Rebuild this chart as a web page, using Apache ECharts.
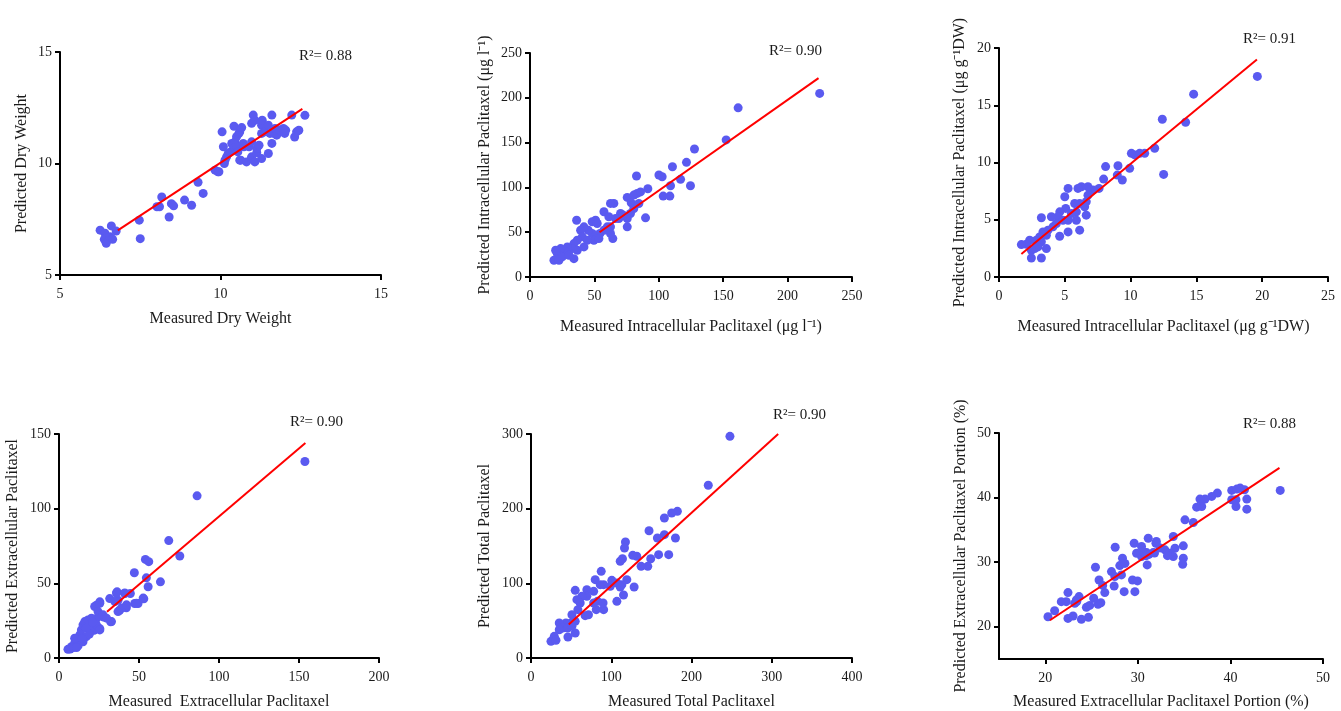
<!DOCTYPE html>
<html>
<head>
<meta charset="utf-8">
<script src="https://cdn.jsdelivr.net/npm/echarts@6/dist/echarts.min.js"></script>
<style>
html,body{margin:0;padding:0;background:#fff;}
#chart{width:1341px;height:711px;}
</style>
</head>
<body>
<div id="chart"></div>
<script>
// ---------- DATA ----------
const dryWeightPts = [
[6.25,7.01],[6.4,6.87],[6.38,6.6],[6.44,6.42],[6.56,6.72],[6.6,7.2],[6.64,6.6],[6.75,6.97],
[7.47,7.46],[7.5,6.63],[8.02,8.06],[8.1,8.06],[8.17,8.5],[8.4,7.6],[8.47,8.2],[8.54,8.1],
[8.88,8.36],[9.1,8.13],[9.3,9.16],[9.46,8.66],[9.83,9.7],[9.92,9.63],[9.95,9.63],[10.05,11.42],
[10.09,10.75],[10.12,10.0],[10.14,10.15],[10.19,10.3],[10.24,10.45],[10.31,10.52],[10.35,10.9],
[10.39,10.82],[10.42,11.67],[10.45,10.97],[10.5,10.75],[10.5,11.2],[10.54,10.52],[10.57,11.34],
[10.6,11.42],[10.6,10.15],[10.63,10.15],[10.66,11.61],[10.71,10.9],[10.73,10.75],[10.81,10.07],
[10.89,10.75],[10.96,10.22],[10.97,10.3],[10.97,11.8],[10.97,10.97],[11.02,12.17],[11.07,11.94],
[11.07,10.07],[11.13,10.48],[11.13,10.67],[11.2,10.82],[11.28,11.72],[11.28,11.35],[11.28,10.22],
[11.3,11.94],[11.38,11.42],[11.49,11.72],[11.49,10.45],[11.54,11.35],[11.6,12.17],[11.6,10.9],
[11.67,11.34],[11.7,11.57],[11.75,11.27],[11.85,11.5],[11.96,11.57],[12.0,11.35],[12.03,11.49],
[12.22,12.17],[12.31,11.19],[12.37,11.42],[12.44,11.49],[12.63,12.16]
];
const dryWeightFit = [[6.8,7.0],[12.55,12.45]];

const intraLPts = [
[161.6,188.8],[224.9,204.9],[152.3,153],[127.7,142.9],[121.5,128],[110.6,123.1],[116.9,109],
[124.6,101.9],[109.1,101.9],[100.1,113.8],[102.6,111.9],[103.4,90.3],[108.6,90.3],[91.5,98.5],
[89.7,66],[82.7,112.7],[83.2,93.3],[80.6,91.4],[75.5,88.8],[78.6,82.8],[80.6,76.5],[78,70.9],
[75.5,65.3],[75.5,56],[70.3,70.9],[65.1,82.1],[62.5,82.1],[57.4,72.8],[61.2,67.2],[66.4,65.3],
[62.5,56],[64.3,42.9],[62.5,48.5],[54.3,48.5],[57.4,52.2],[50.9,63.4],[48.3,61.6],[52.2,59.7],
[48.3,48.5],[49.6,41],[45.2,52.2],[41.9,56],[39.3,52.2],[40.6,44.8],[36.2,63.4],[36.7,41],
[34.1,37.3],[32.8,31.7],[34.1,20.5],[36.7,29.9],[29,33.6],[27.7,28],[23.8,31.7],[21.2,26.1],
[19.9,29.9],[18.6,18.7],[22.5,18.7],[25,22.4],[30.2,24.3],[41.9,33.6],[44.5,41],[53.5,42.9],
[60,56],[69,65.3],[72.4,69],[84.5,82],[85.8,95]
];
const intraLFit = [[54,50],[224,222]];

const intraGPts = [
[19.63,17.52],[14.79,15.97],[14.18,13.52],[12.41,13.78],[12.51,8.96],[11.83,11.24],[11.07,10.8],
[10.69,10.8],[10.31,10.66],[10.06,10.8],[9.93,9.49],[9.37,8.47],[9.04,9.72],[8.99,8.9],[8.1,9.64],
[7.95,8.55],[7.6,7.74],[7.14,7.59],[6.76,7.88],[6.76,7.15],[6.63,6.57],[6.51,6.13],[6.63,5.4],
[6.26,7.88],[6.0,7.74],[6.13,6.42],[5.88,5.69],[5.75,6.42],[5.88,4.96],[6.13,4.09],[5.25,7.74],
[5.0,7.01],[5.07,5.99],[5.25,4.96],[5.25,3.94],[4.62,5.69],[4.49,5.26],[4.36,4.67],[4.61,3.56],
[3.98,5.26],[4.1,4.38],[3.72,4.09],[3.6,3.65],[3.34,3.94],[3.22,5.17],[3.22,3.07],[3.09,3.5],
[2.84,3.21],[2.96,2.63],[2.71,2.48],[2.46,2.34],[2.33,3.21],[2.46,1.66],[3.22,1.66],[2.08,2.86],
[1.7,2.83],[3.6,2.48],[4.86,4.96],[5.5,5.55]
];
const intraGFit = [[1.7,2.0],[19.6,19.0]];

const extraPts = [
[153.7,131.6],[86.3,108.6],[68.6,78.6],[75.5,68.3],[54,66],[56.1,64.5],[47.1,57.1],[63.4,51],
[54.6,53.7],[55.7,47.7],[53,39.6],[49.4,36.5],[47.3,36.5],[44.6,43.2],[41.1,43.2],[36.3,44.3],
[36.9,38.7],[42.1,33.6],[37.9,32],[31.7,39.8],[25.5,37.6],[23.4,35.4],[32.3,24.2],[27.5,27.5],
[23.4,26.4],[21.9,18.6],[25.5,19.7],[5.6,5.8],[7.8,7.6],[9.8,9.9],[11.9,12.1],[13,15.4],
[14,18.8],[15,22.2],[16.1,24.4],[18.1,25.5],[20.3,26.7],[19.2,21],[21.3,18.8],[23.4,22.2],
[25.5,18.8],[17.1,14.3],[15,10.9],[11.9,8.1],[22.3,34.5],[25.5,36.7],[24.4,31.1],[27.5,28.9],
[32.8,24.4],[35.9,43.5],[41.1,43.5],[34.9,37.8],[39.1,33.4],[48.4,36.7],[52.6,40.1],[9.8,13.2],
[7,6],[9,7],[11,7],[29.7,26.7],[36.9,31.1],[42.2,35.6],[14.5,13],[17,20],[19,16],[21,24]
];
const extraFit = [[30,31],[154,144]];

const totalPts = [
[247.9,296.9],[220.9,231.3],[182.4,196.4],[175.3,194.2],[166.2,187.5],[180,160.7],[166.2,165.2],
[157.5,160.7],[171.6,138.4],[159,138.4],[147.1,170.5],[149.2,133],[145.5,122.8],[137.2,122.8],
[131.8,136.2],[126.8,137.5],[117.7,155.4],[116.5,147.3],[114,133],[111.2,129.5],[119.4,104.9],
[113.2,98.2],[115.3,84.4],[111.2,95.1],[128.5,95.1],[107,75.9],[100.7,104],[98.8,96],[90.5,98.2],
[87.5,116.1],[80,104.9],[90.5,64.7],[89.8,73.7],[82.9,75.9],[81.3,64.7],[78.1,89.3],[69.6,91.5],
[69.6,82.6],[63.4,82.6],[55.1,90.6],[57.2,78.1],[61.3,73.7],[58.4,64.7],[67.5,56.7],[71.6,58],
[51,58],[55.1,49.1],[49.7,46.9],[43.5,46.9],[35.2,46.9],[39.4,40.2],[45.6,40.2],[55.1,33.5],
[46,28.1],[35.2,37.9],[29,29],[24.9,22.3],[31.1,23.7],[51,42.4],[78.1,73.7],[107,100.4],[86.3,98.2]
];
const totalFit = [[47,45],[308,300]];

const portionPts = [
[45.38,41.11],[41.77,39.76],[41.77,38.21],[40.6,38.62],[40.14,39.66],[40.6,39.66],[40.14,41.11],
[40.69,41.31],[41.05,41.47],[41.52,41.21],[38.59,40.69],[37.98,40.18],[37.26,39.76],[36.71,39.76],
[36.9,38.62],[36.35,38.52],[35.99,36.14],[35.09,36.55],[34.91,32.52],[34.91,30.6],[34.84,29.67],
[34.01,32.16],[33.83,33.97],[33.83,30.86],[33.47,31.38],[32.92,31.9],[31.95,32.93],[31.12,33.7],
[31.01,29.57],[31.66,31.48],[30.94,31.48],[30.4,32.42],[30.4,30.86],[29.86,31.38],[29.6,32.93],
[29.42,27.24],[29.96,27.09],[29.68,25.43],[28.52,25.43],[28.34,30.6],[28.05,29.47],[28.23,28.02],
[27.51,27.76],[27.55,32.31],[27.44,26.31],[27.15,28.54],[26.43,25.28],[25.81,27.24],[26.0,23.72],
[25.7,23.47],[25.42,29.21],[25.23,24.4],[24.44,23.0],[24.66,21.45],[23.9,21.14],[23.65,24.66],
[23.36,24.14],[23.18,23.62],[23.0,21.66],[22.45,21.29],[22.45,25.28],[22.27,23.88],[21.73,23.88],
[21.01,22.48],[20.29,21.55],[30.6,31.6],[31.2,31.2],[31.8,31.4],[32.4,32.2],[32.0,33.2],[33.2,31.0],
[30.9,31.0],[28.6,29.8],[26.2,26.4],[24.8,23.3],[23.4,23.9]
];
const portionFit = [[20.5,21.0],[45.3,44.6]];

const r2Labels = ['0.88','0.90','0.91','0.90','0.90','0.88'];
const xNames = ['Measured Dry Weight','Measured Intracellular Paclitaxel (μg l⁻¹)','Measured Intracellular Paclitaxel (μg g⁻¹DW)','Measured  Extracellular Paclitaxel','Measured Total Paclitaxel','Measured Extracellular Paclitaxel Portion (%)'];
const yNames = ['Predicted Dry Weight','Predicted Intracellular Paclitaxel (μg l⁻¹)','Predicted Intracellular Paclitaxel (μg g⁻¹DW)','Predicted Extracellular Paclitaxel','Predicted Total Paclitaxel','Predicted Extracellular Paclitaxel Portion (%)'];
const xRanges = [[5,15,5],[0,250,50],[0,25,5],[0,200,50],[0,400,100],[15,50,5]];
const yRanges = [[5,15,5],[0,250,50],[0,20,5],[0,150,50],[0,300,100],[15,50,5]];
const pointSets = [dryWeightPts,intraLPts,intraGPts,extraPts,totalPts,portionPts];
const fitSets = [dryWeightFit,intraLFit,intraGFit,extraFit,totalFit,portionFit];

// ---------- LAYOUT ----------
const grids = [
 {left:60,top:52,width:321,height:223},
 {left:530,top:53,width:322,height:224},
 {left:999,top:48,width:329,height:229},
 {left:59,top:434,width:320,height:224},
 {left:531,top:434,width:321,height:224},
 {left:999,top:433,width:324,height:226}
];
const xGaps=[36,42,42,36,36,35];
const yGaps=[30,37,31,38,38,30];
const r2Pos=[[299,49],[769,44],[1243,32],[290,415],[773,408],[1243,417]];

const FONT='"Liberation Serif","Times New Roman",serif';
const TXT='#1a1a1a';
const PT='#5a5af0';

const option={
 backgroundColor:'#fff',
 animation:false,
 grid:grids.map(g=>Object.assign({containLabel:false},g)),
 title:r2Pos.map((p,i)=>({
   left:p[0],top:p[1],padding:0,
   text:'R²= '+r2Labels[i],
   textStyle:{fontFamily:FONT,fontSize:15,fontWeight:'normal',color:TXT}
 })),
 xAxis:xRanges.map((r,i)=>{
   const ax={
    type:'value',gridIndex:i,min:r[0],max:r[1],interval:r[2],
    name:xNames[i],nameLocation:'middle',nameGap:xGaps[i],
    nameTextStyle:{fontFamily:FONT,fontSize:16,color:TXT},
    axisLine:{show:true,onZero:false,lineStyle:{color:'#000',width:2}},
    axisTick:{show:true,inside:false,length:5,lineStyle:{color:'#000',width:2}},
    axisLabel:{fontFamily:FONT,fontSize:14,color:TXT,margin:12},
    splitLine:{show:false}
   };
   if(i===5){
     ax.axisTick.customValues=[20,30,40,50];
     ax.axisLabel.customValues=[20,30,40,50];
   }
   return ax;
 }),
 yAxis:yRanges.map((r,i)=>{
   const ax={
    type:'value',gridIndex:i,min:r[0],max:r[1],interval:r[2],
    name:yNames[i],nameLocation:'middle',nameGap:yGaps[i],
    nameTextStyle:{fontFamily:FONT,fontSize:16,color:TXT},
    axisLine:{show:true,onZero:false,lineStyle:{color:'#000',width:2}},
    axisTick:{show:true,inside:false,length:5,lineStyle:{color:'#000',width:2}},
    axisLabel:{fontFamily:FONT,fontSize:14,color:TXT,margin:8},
    splitLine:{show:false}
   };
   if(i===5){
     ax.axisTick.customValues=[20,30,40,50];
     ax.axisLabel.customValues=[20,30,40,50];
   }
   return ax;
 }),
 series:[]
};
pointSets.forEach((pts,i)=>{
 option.series.push({
   type:'line',xAxisIndex:i,yAxisIndex:i,data:fitSets[i],
   showSymbol:false,symbol:'none',lineStyle:{color:'#ff0000',width:2},z:3
 });
 option.series.push({
   type:'scatter',xAxisIndex:i,yAxisIndex:i,data:pts,
   symbolSize:9,itemStyle:{color:PT,opacity:1},z:2
 });
});
const chart=echarts.init(document.getElementById('chart'),null,{renderer:'canvas'});
chart.setOption(option);
</script>
</body>
</html>
